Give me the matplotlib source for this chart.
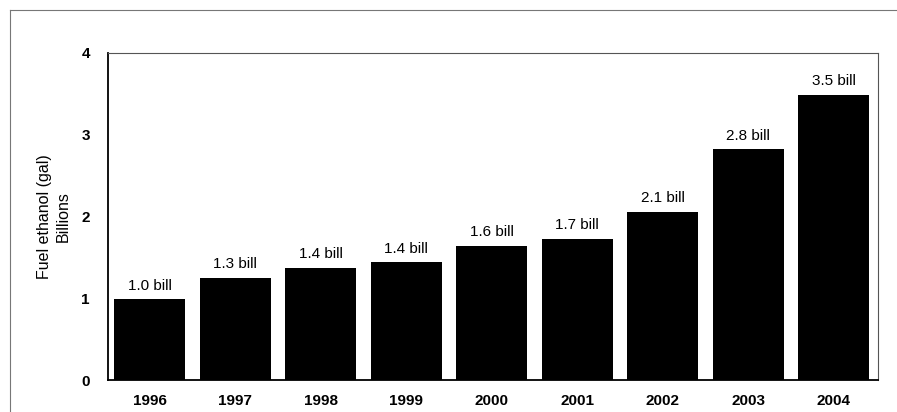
import matplotlib
matplotlib.use('Agg')
import matplotlib.pyplot as plt
from matplotlib.lines import Line2D

plt.rcParams['font.family'] = ['Liberation Sans', 'DejaVu Sans']

# 연도별 연료 에탄올 생산량 (billion gal)
years = ['1996', '1997', '1998', '1999', '2000', '2001', '2002', '2003', '2004']
values = [0.99, 1.25, 1.37, 1.44, 1.64, 1.73, 2.06, 2.82, 3.49]
bar_labels = ['1.0 bill', '1.3 bill', '1.4 bill', '1.4 bill', '1.6 bill',
              '1.7 bill', '2.1 bill', '2.8 bill', '3.5 bill']
y_ticks = [0, 1, 2, 3, 4]

fig = plt.figure(figsize=(8.97, 4.12), dpi=100)
ax = fig.add_axes([108/897, 32/412, 770/897, 327/412])

x = range(len(years))
ax.bar(x, values, width=0.83, color='black')

for i, (v, lab) in enumerate(zip(values, bar_labels)):
    ax.text(i, v + 0.08, lab, ha='center', va='bottom', fontsize=11)

ax.set_xlim(-0.49, 8.52)
ax.set_ylim(0, 4)
ax.set_xticks(list(x))
ax.set_xticklabels(years, fontsize=11, fontweight='bold')
ax.set_yticks(y_ticks)
ax.set_yticklabels([str(t) for t in y_ticks], fontsize=11, fontweight='bold')
ax.tick_params(length=0)
ax.tick_params(axis='x', pad=10)
ax.tick_params(axis='y', pad=13)

ax.spines['left'].set_linewidth(1.3)
ax.spines['bottom'].set_linewidth(1.3)
ax.spines['top'].set_linewidth(0.8)
ax.spines['right'].set_linewidth(0.8)
ax.spines['top'].set_color('#555555')
ax.spines['right'].set_color('#555555')

ax.set_ylabel('Fuel ethanol (gal)\nBillions', fontsize=11.5, labelpad=8, linespacing=1.3)

# 바깥 테두리 (스캔본 느낌)
fig.add_artist(Line2D([10/897, 10/897], [0, 1 - 10/412], transform=fig.transFigure,
                      color='#777777', lw=0.8))
fig.add_artist(Line2D([10/897, 1], [1 - 10/412, 1 - 10/412], transform=fig.transFigure,
                      color='#777777', lw=0.8))

fig.savefig('out.png', dpi=100)
